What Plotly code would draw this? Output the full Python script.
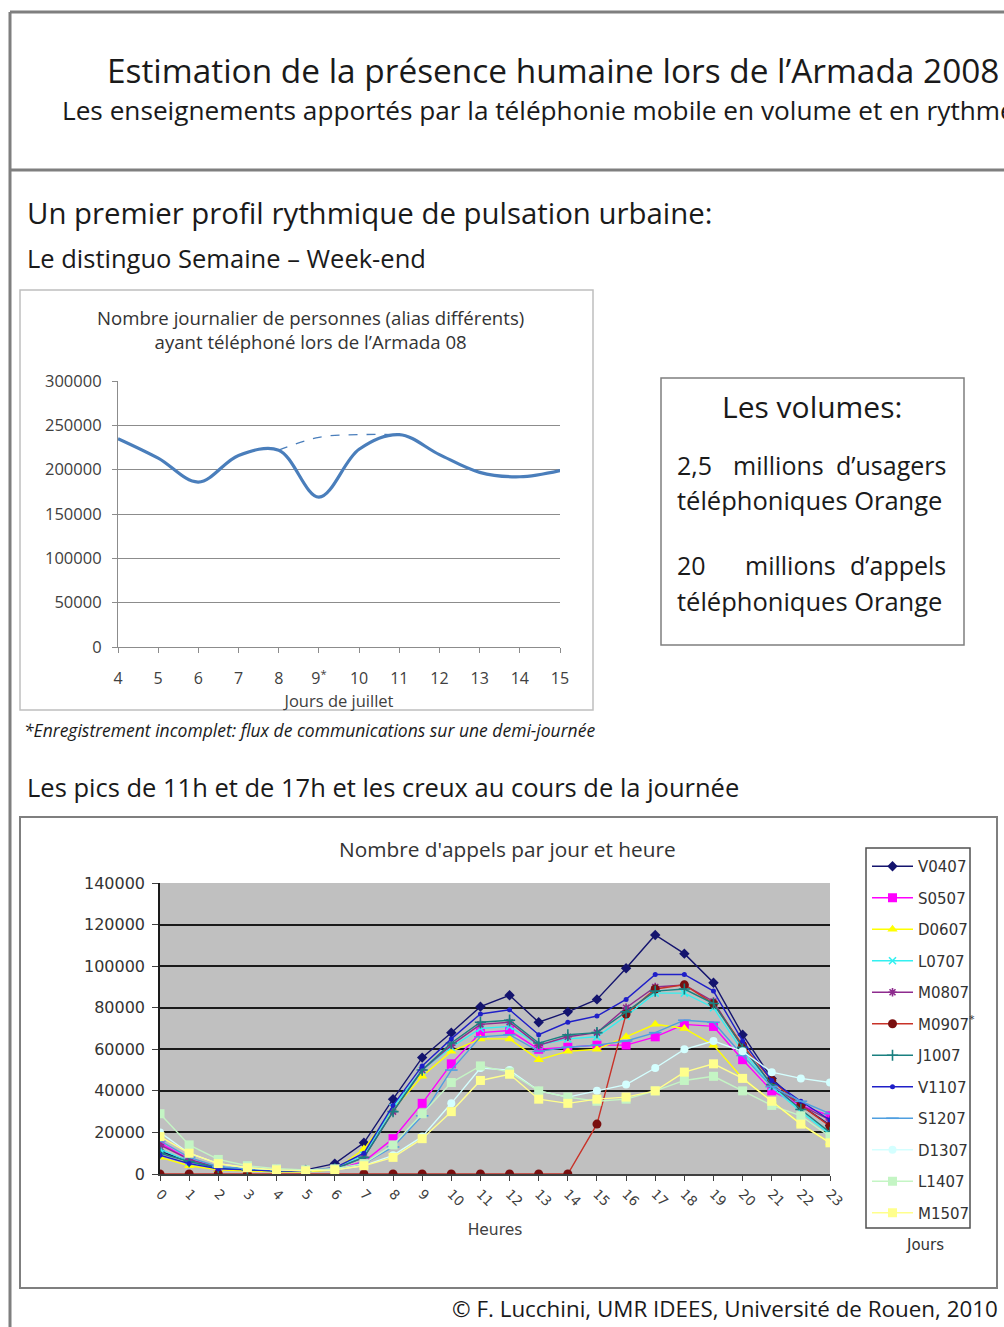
import plotly.graph_objects as go

# ---------------- data ----------------
# daily number of distinct callers (top chart)
days = [4, 5, 6, 7, 8, 9, 10, 11, 12, 13, 14, 15]
day_labels = ["4", "5", "6", "7", "8", "9<sup>*</sup>", "10", "11", "12", "13", "14", "15"]
callers = [235000, 213000, 186000, 216000, 222000, 169000, 223000, 239500, 217000, 197000, 192000, 199000]
# estimated trend over the incomplete recording day
est_days = [8, 9, 10, 11]
est_callers = [222000, 236500, 239500, 239500]

# hourly number of calls per day (bottom chart)
hours = list(range(24))
V0407 = [11000, 6000, 3000, 2500, 2000, 2000, 5000, 15000, 36000, 56000, 68000, 80500, 86000, 73000, 78000, 84000, 99000, 115000, 106000, 92000, 67000, 46000, 33000, 23500]
S0507 = [15000, 7000, 3000, 2000, 1500, 1500, 2000, 6000, 17000, 34000, 53000, 68000, 69000, 60000, 61000, 62000, 62000, 66000, 72000, 71000, 55000, 40000, 33000, 28000]
D0607 = [8000, 4000, 2000, 1500, 1000, 1000, 2000, 12000, 31000, 47000, 59000, 65000, 65000, 55000, 59000, 60000, 66000, 72000, 70000, 62000, 46000, 35000, 24000, 15000]
L0707 = [12000, 6000, 3000, 2000, 1500, 1500, 2500, 9000, 32000, 50000, 61000, 70000, 71000, 62000, 65000, 66000, 76000, 87000, 87000, 80000, 59000, 42000, 30000, 19000]
M0807 = [14000, 7000, 3000, 2000, 1500, 1500, 2500, 8000, 30000, 50000, 62000, 72000, 73000, 62000, 66000, 68000, 80000, 90000, 91000, 83000, 61000, 43000, 33000, 26000]
M0907 = [0, 0, 0, 0, 0, 0, 0, 0, 0, 0, 0, 0, 0, 0, 0, 24000, 77000, 89000, 91000, 82000, 62000, 45000, 33000, 23000]
J1007 = [10000, 6000, 3000, 2000, 1500, 1500, 2500, 8000, 30000, 50000, 63000, 73000, 74000, 63000, 67000, 68000, 78000, 88000, 89000, 82000, 61000, 43000, 31000, 20000]
V1107 = [9000, 5000, 2500, 2000, 1500, 1500, 3000, 10000, 33000, 52000, 65000, 77000, 79000, 67000, 73000, 76000, 84000, 96000, 96000, 88000, 64000, 45000, 35000, 26000]
S1207 = [16000, 8000, 3500, 2500, 2000, 2000, 2500, 5000, 13000, 28000, 50000, 66000, 67000, 59000, 61000, 62000, 64000, 68000, 74000, 73000, 57000, 42000, 35000, 29000]
D1307 = [20000, 10000, 5000, 3000, 2000, 1500, 2000, 4000, 9000, 18000, 34000, 51000, 50000, 40000, 37000, 40000, 43000, 51000, 60000, 64000, 59000, 49000, 46000, 44000]
L1407 = [29000, 14000, 7000, 4000, 2500, 2000, 2500, 5000, 14000, 29000, 44000, 52000, 49000, 40000, 37000, 35000, 36000, 40000, 45000, 47000, 40000, 33000, 28000, 18000]
M1507 = [18000, 10000, 5000, 3000, 2000, 1500, 2000, 4000, 8000, 17000, 30000, 45000, 48000, 36000, 34000, 36000, 37000, 40000, 49000, 53000, 46000, 35000, 24000, 15000]

series_names = ["V0407", "S0507", "D0607", "L0707", "M0807", "M0907<sup>*</sup>",
                "J1007", "V1107", "S1207", "D1307", "L1407", "M1507"]
series_values = [V0407, S0507, D0607, L0707, M0807, M0907, J1007, V1107, S1207, D1307, L1407, M1507]
series_colors = ["#14146e", "#ff00ff", "#ffff00", "#33f0f0", "#8e2b8e", "#7a0f0f",
                 "#1a8080", "#1f1fc8", "#4f9fe0", "#d4ffff", "#c4f5c4", "#ffff8c"]
series_symbols = ["diamond", "square", "triangle-up", "x-thin-open", "asterisk-open", "circle",
                  "cross-thin-open", "circle", "line-ew-open", "circle", "square", "square"]
series_sizes = [8, 9, 9, 7, 7, 9, 8, 5, 9, 8, 9, 9]

# ---------------- page geometry helpers ----------------
# positions below are given in page pixels and converted to paper fractions
W, H = 1004, 1327


def px(x):
    return x / W


def py(y):
    return 1 - y / H


HEAD = "Open Sans"
LAB = "DejaVu Sans"

fig = go.Figure()

# top chart: smooth daily curve and dashed estimate
fig.add_trace(go.Scatter(
    x=days, y=callers, mode="lines", line=dict(color="#4a7ebb", width=3.2, shape="spline", smoothing=1.0),
    xaxis="x", yaxis="y", showlegend=False, hoverinfo="skip"))
fig.add_trace(go.Scatter(
    x=est_days, y=est_callers, mode="lines", line=dict(color="#4a7ebb", width=1.3, dash="dash", shape="spline"),
    xaxis="x", yaxis="y", showlegend=False, hoverinfo="skip"))

# bottom chart: one line per day
for i, (name, vals) in enumerate(zip(series_names, series_values)):
    col = series_colors[i]
    sym = series_symbols[i]
    open_sym = sym.endswith("open")
    fig.add_trace(go.Scatter(
        x=hours, y=vals, name=name, mode="lines+markers",
        line=dict(color=col if i != 5 else "#c83228", width=1.4),
        marker=dict(symbol=sym, size=series_sizes[i], color=col,
                    line=dict(color=col, width=1.6 if open_sym else 0)),
        xaxis="x2", yaxis="y2", legendgroup="g%d" % i))

grid_top = "#8c8c8c"
fig.update_layout(
    width=W, height=H,
    margin=dict(l=0, r=0, t=0, b=0, autoexpand=False),
    paper_bgcolor="white",
    plot_bgcolor="rgba(0,0,0,0)",
    xaxis=dict(domain=[px(118), px(560)], range=[4, 15], anchor="y",
               tickmode="array", tickvals=days, ticktext=day_labels,
               showgrid=False, zeroline=False, showline=True, linecolor=grid_top, linewidth=1.2,
               ticks="outside", ticklen=5, tickcolor=grid_top, ticklabelstandoff=12,
               tickfont=dict(family=HEAD, size=16, color="#404040"),
               title=dict(text="Jours de juillet", font=dict(family=HEAD, size=16.5, color="#404040"), standoff=0)),
    yaxis=dict(domain=[py(647), py(381)], range=[0, 300000], anchor="x",
               tickmode="linear", tick0=0, dtick=50000, tickformat="d",
               showgrid=True, gridcolor=grid_top, gridwidth=1.2, zeroline=False,
               showline=True, linecolor=grid_top, linewidth=1.2,
               ticks="outside", ticklen=5, tickcolor=grid_top, ticklabelstandoff=7,
               tickfont=dict(family=HEAD, size=16.5, color="#404040")),
    xaxis2=dict(domain=[px(160), px(830)], range=[0, 23], anchor="y2",
                tickmode="linear", tick0=0, dtick=1, tickangle=45,
                showgrid=False, zeroline=False, showline=True, linecolor="#404040", linewidth=1.5,
                ticks="outside", ticklen=5, tickcolor="#404040",
                tickfont=dict(family=LAB, size=13.5, color="#404040"),
                title=dict(text="Heures", font=dict(family=LAB, size=15.5, color="#404040"), standoff=16)),
    yaxis2=dict(domain=[py(1174), py(883)], range=[0, 140000], anchor="x2",
                tickmode="linear", tick0=0, dtick=20000, tickformat="d",
                showgrid=True, gridcolor="#1a1a1a", gridwidth=2, zeroline=False,
                showline=True, linecolor="#1a1a1a", linewidth=1.5,
                ticks="outside", ticklen=6, tickcolor="#404040", ticklabelstandoff=4,
                tickfont=dict(family=LAB, size=16, color="#333333")),
    legend=dict(x=px(867), y=py(850), xanchor="left", yanchor="top",
                bgcolor="rgba(0,0,0,0)", borderwidth=0,
                font=dict(family=LAB, size=15, color="#333333"),
                tracegroupgap=9, itemwidth=41),
    showlegend=True,
)

shapes = []
# page frame and header separator
shapes.append(dict(type="line", xref="paper", yref="paper", x0=px(10), x1=px(1010), y0=py(12), y1=py(12),
                   line=dict(color="#7f7f7f", width=3)))
shapes.append(dict(type="line", xref="paper", yref="paper", x0=px(10), x1=px(10), y0=py(12), y1=py(1330),
                   line=dict(color="#7f7f7f", width=3)))
shapes.append(dict(type="line", xref="paper", yref="paper", x0=px(10), x1=px(1010), y0=py(170), y1=py(170),
                   line=dict(color="#7f7f7f", width=3)))
# top chart frame
shapes.append(dict(type="rect", xref="paper", yref="paper", x0=px(20), x1=px(593), y0=py(710), y1=py(290),
                   line=dict(color="#bfbfbf", width=1.5), layer="below"))
# volumes box
shapes.append(dict(type="rect", xref="paper", yref="paper", x0=px(661), x1=px(964), y0=py(645), y1=py(378),
                   line=dict(color="#7f7f7f", width=1.5), layer="below"))
# bottom chart frame
shapes.append(dict(type="rect", xref="paper", yref="paper", x0=px(20), x1=px(997), y0=py(1288), y1=py(817),
                   line=dict(color="#7f7f7f", width=2), layer="below"))
# legend frame of the hourly chart
shapes.append(dict(type="rect", xref="paper", yref="paper", x0=px(866), x1=px(970), y0=py(1228), y1=py(848),
                   line=dict(color="#505050", width=1.5), layer="below"))
# grey plotting area of the hourly chart
shapes.append(dict(type="rect", xref="x2 domain", yref="y2 domain", x0=0, x1=1, y0=0, y1=1,
                   fillcolor="#c0c0c0", line=dict(width=0), layer="below"))
fig.update_layout(shapes=shapes)


def note(text, x, y, size, family=HEAD, color="#1a1a1a", anchor="left", **kw):
    fig.add_annotation(text=text, x=px(x), y=py(y), xref="paper", yref="paper",
                       xanchor=anchor, yanchor="middle", showarrow=False,
                       font=dict(family=family, size=size, color=color), **kw)


note("Estimation de la présence humaine lors de l’Armada 2008", 105, 70, 33.4)
note("Les enseignements apportés par la téléphonie mobile en volume et en rythme", 60, 110, 26.2)
note("Un premier profil rythmique de pulsation urbaine:", 25, 213, 29.4)
note("Le distinguo Semaine – Week-end", 25, 258, 25.5)
note("Nombre journalier de personnes (alias différents)<br>ayant téléphoné lors de l’Armada 08",
     310, 329, 18.6, color="#333333", anchor="center")
note("<i>*Enregistrement incomplet: flux de communications sur une demi-journée</i>", 22, 730, 17.5)
note("Les volumes:", 812, 407, 30, anchor="center")
note("2,5", 675, 465, 25)
note("millions", 778, 465, 25, anchor="center")
note("d’usagers", 948, 465, 25, anchor="right")
note("téléphoniques Orange", 675, 500, 25.5)
note("20", 675, 565, 25)
note("millions", 790, 565, 25, anchor="center")
note("d’appels", 948, 565, 25, anchor="right")
note("téléphoniques Orange", 675, 601, 25.5)
note("Les pics de 11h et de 17h et les creux au cours de la journée", 25, 787, 25.5)
note("Nombre d'appels par jour et heure", 507, 849, 20.8, color="#333333", anchor="center")
note("Jours", 925, 1245, 15, family=LAB, color="#333333", anchor="center")
note("© F. Lucchini, UMR IDEES, Université de Rouen, 2010", 1000, 1308, 22.4, anchor="right")

fig.write_html("out.html")
